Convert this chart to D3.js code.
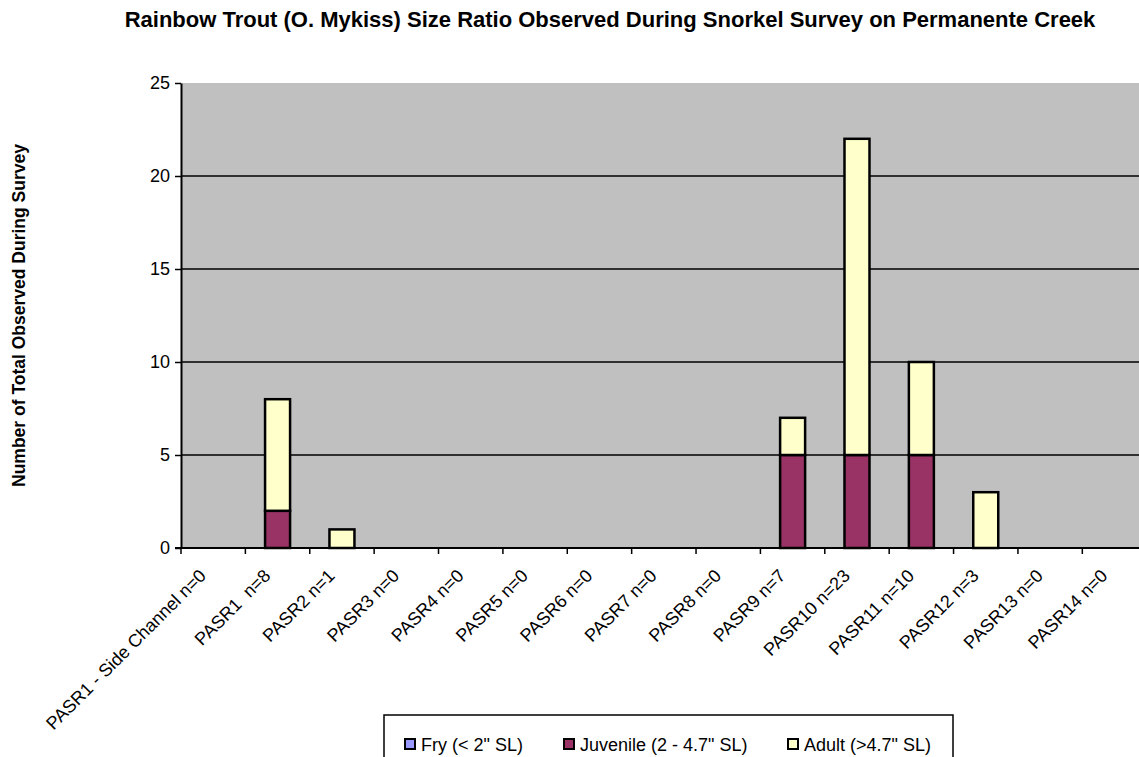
<!DOCTYPE html>
<html lang="en">
<head>
  <meta charset="UTF-8">
  <title>Rainbow Trout Size Ratio</title>
  <style>
    body { margin: 0; background: #fff; }
    svg { display: block; font-family: "Liberation Sans", Arial, sans-serif; }
  </style>
</head>
<body>
  <svg width="1139" height="757"></svg>
  <script src="https://cdn.jsdelivr.net/npm/d3@7"></script>
  <script>
    var categories = ['PASR1 - Side Channel n=0', 'PASR1  n=8', 'PASR2 n=1', 'PASR3 n=0', 'PASR4 n=0',
      'PASR5 n=0', 'PASR6 n=0', 'PASR7 n=0', 'PASR8 n=0', 'PASR9 n=7', 'PASR10 n=23',
      'PASR11 n=10', 'PASR12 n=3', 'PASR13 n=0', 'PASR14 n=0']
    var fry      = [0, 0, 0, 0, 0, 0, 0, 0, 0, 0, 0, 0, 0, 0, 0]
    var juvenile = [0, 2, 0, 0, 0, 0, 0, 0, 0, 5, 5, 5, 0, 0, 0]
    var adult    = [0, 6, 1, 0, 0, 0, 0, 0, 0, 2, 17, 5, 3, 0, 0]
    var yTicks = [0, 5, 10, 15, 20, 25]
    var seriesNames = ['Fry (< 2" SL)', 'Juvenile (2 - 4.7" SL)', 'Adult (>4.7" SL)']
    var seriesColors = ['#9999ff', '#993366', '#ffffcc']

    var svg = d3.select('svg')
    var plotLeft = 181, plotTop = 83, plotBottom = 548, plotRight = 181 + 15 * 64.38

    var rows = categories.map(function(c, i) {
      return { cat: c, fry: fry[i], juvenile: juvenile[i], adult: adult[i] }
    })
    var keys = ['fry', 'juvenile', 'adult']
    var stacked = d3.stack().keys(keys)(rows)

    var x = d3.scaleBand().domain(categories).range([plotLeft, plotRight]).padding(0)
    var y = d3.scaleLinear().domain([0, 25]).range([plotBottom, plotTop])
    var barW = 25

    // plot background
    svg.append('rect')
      .attr('x', plotLeft).attr('y', plotTop)
      .attr('width', plotRight - plotLeft).attr('height', plotBottom - plotTop)
      .attr('fill', '#c0c0c0')

    // gridlines
    svg.append('g').selectAll('line')
      .data(yTicks.filter(function(d) { return d > 0 && d < 25 }))
      .enter().append('line')
      .attr('x1', plotLeft).attr('x2', plotRight)
      .attr('y1', function(d) { return y(d) }).attr('y2', function(d) { return y(d) })
      .attr('stroke', '#000').attr('stroke-width', 1.3)

    // bars
    var color = d3.scaleOrdinal().domain(keys).range(seriesColors)
    svg.append('g').selectAll('g')
      .data(stacked)
      .enter().append('g')
      .attr('fill', function(d) { return color(d.key) })
      .selectAll('rect')
      .data(function(d) { return d.filter(function(p) { return p[1] - p[0] > 0 }) })
      .enter().append('rect')
      .attr('x', function(d) { return x(d.data.cat) + (x.bandwidth() - barW) / 2 })
      .attr('y', function(d) { return y(d[1]) })
      .attr('width', barW)
      .attr('height', function(d) { return y(d[0]) - y(d[1]) })
      .attr('stroke', '#000').attr('stroke-width', 2.5)

    // y axis
    var yAxis = svg.append('g')
      .attr('transform', 'translate(' + plotLeft + ',0)')
      .call(d3.axisLeft(y).tickValues(yTicks).tickSize(6).tickSizeOuter(0).tickPadding(5))
    yAxis.select('.domain').attr('stroke', '#000').attr('stroke-width', 2)
    yAxis.selectAll('.tick line').attr('stroke', '#000').attr('stroke-width', 1.5)
    yAxis.selectAll('.tick text')
      .attr('font-family', '"Liberation Sans", Arial, sans-serif')
      .attr('font-size', 18).attr('fill', '#000')

    // x axis
    svg.append('line')
      .attr('x1', plotLeft - 6).attr('x2', plotRight)
      .attr('y1', plotBottom).attr('y2', plotBottom)
      .attr('stroke', '#000').attr('stroke-width', 2)
    var bounds = categories.map(function(c) { return x(c) }).concat([plotRight])
    svg.append('g').selectAll('line')
      .data(bounds)
      .enter().append('line')
      .attr('x1', function(d) { return d }).attr('x2', function(d) { return d })
      .attr('y1', plotBottom).attr('y2', plotBottom + 6)
      .attr('stroke', '#000').attr('stroke-width', 1.5)

    svg.append('g').selectAll('text')
      .data(categories)
      .enter().append('text')
      .attr('transform', function(d) {
        return 'translate(' + (x(d) + x.bandwidth() / 2 - 6) + ',' + (plotBottom + 29) + ') rotate(-45)'
      })
      .attr('text-anchor', 'end')
      .attr('font-size', 18)
      .style('white-space', 'pre')
      .text(function(d) { return d })

    // title
    svg.append('text')
      .attr('x', 610).attr('y', 27)
      .attr('text-anchor', 'middle')
      .attr('font-size', 22).attr('font-weight', 'bold')
      .text('Rainbow Trout (O. Mykiss) Size Ratio Observed During Snorkel Survey on Permanente Creek')

    // y axis title
    svg.append('text')
      .attr('transform', 'translate(25,' + ((plotTop + plotBottom) / 2) + ') rotate(-90)')
      .attr('text-anchor', 'middle')
      .attr('font-size', 17.5).attr('font-weight', 'bold')
      .text('Number of Total Observed During Survey')

    // legend
    var legend = svg.append('g')
    legend.append('rect')
      .attr('x', 384).attr('y', 715).attr('width', 569).attr('height', 80)
      .attr('fill', '#fff').attr('stroke', '#000').attr('stroke-width', 1.5)
    var legX = [405, 564, 788]
    var items = legend.selectAll('g.item')
      .data(seriesNames)
      .enter().append('g')
      .attr('class', 'item')
      .attr('transform', function(d, i) { return 'translate(' + legX[i] + ',739)' })
    items.append('rect')
      .attr('width', 10).attr('height', 10)
      .attr('fill', function(d, i) { return seriesColors[i] })
      .attr('stroke', '#000').attr('stroke-width', 2)
    items.append('text')
      .attr('x', 16).attr('y', 11.5)
      .attr('font-size', 18)
      .text(function(d) { return d })
  </script>
</body>
</html>
